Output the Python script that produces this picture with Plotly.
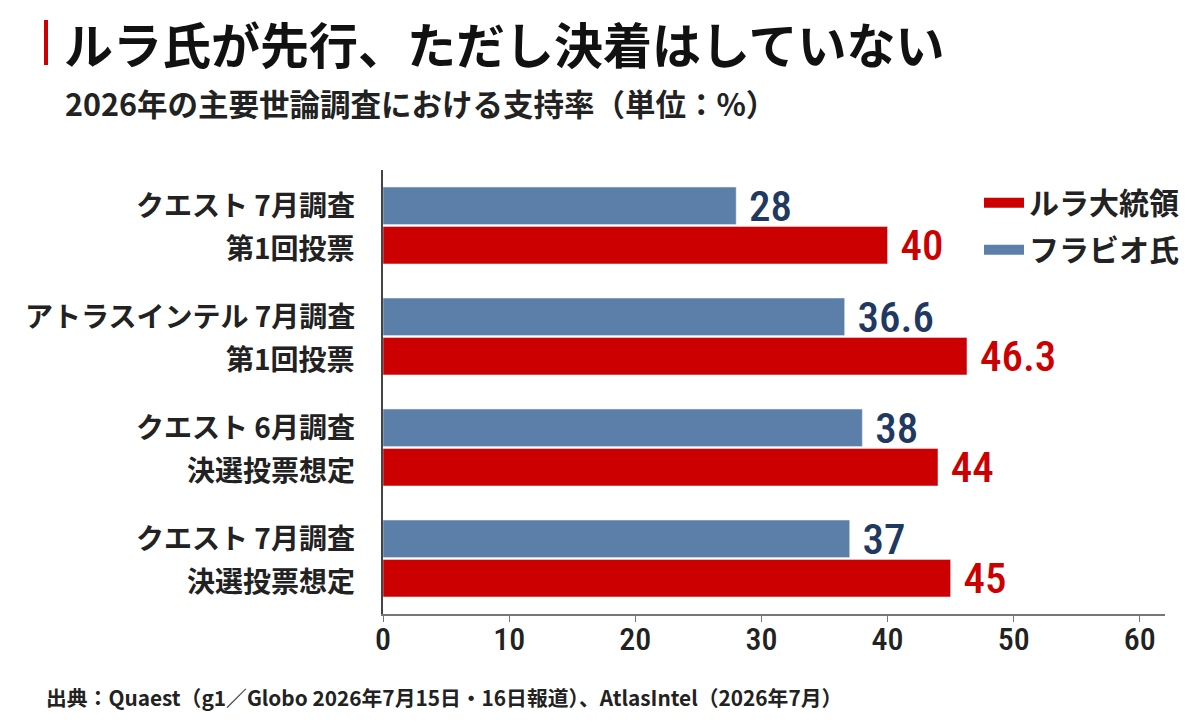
import plotly.graph_objects as go

# 調査ごとのラベル（2行）と支持率
label_top = ["クエスト 7月調査", "アトラスインテル 7月調査", "クエスト 6月調査", "クエスト 7月調査"]
label_bottom = ["第1回投票", "第1回投票", "決選投票想定", "決選投票想定"]
categories = ["q7_1", "atlas7_1", "q6_run", "q7_run"]
lula = [40, 46.3, 44, 45]
flavio = [28, 36.6, 38, 37]

RED = "#cc0000"
BLUE = "#5b7fa8"
NAVY = "#1f3960"
JP = "Noto Sans CJK JP"
NUM = "Roboto Condensed, Liberation Sans Narrow, Roboto, sans-serif"
BARNUM = "Roboto Condensed, Roboto, sans-serif"

# ページ余白(8px)を差し引いた配置
L, T, R, B = 375, 162, 43, 120
W = 1200 - L - R


def px(x):
    # 画面の左端からのピクセル -> paper 座標
    return (x - 8 - L) / W


fig = go.Figure()

fig.add_trace(go.Bar(
    y=categories, x=flavio, orientation="h", name="フラビオ氏",
    marker_color=BLUE, showlegend=False,
    text=["\u00a0" + str(v) for v in flavio], textposition="outside",
    textfont=dict(family=BARNUM, size=43, color=NAVY, weight=500),
    cliponaxis=False,
))
fig.add_trace(go.Bar(
    y=categories, x=lula, orientation="h", name="ルラ大統領",
    marker_color=RED, showlegend=False,
    text=["\u00a0" + str(v) for v in lula], textposition="outside",
    textfont=dict(family=BARNUM, size=43, color=RED, weight=500),
    cliponaxis=False,
))

# 凡例用
fig.add_trace(go.Scatter(x=[None], y=[None], mode="lines", name="<b>ルラ大統領</b>",
                         line=dict(color=RED, width=15), legendgroup="a"))
fig.add_trace(go.Scatter(x=[None], y=[None], mode="lines", name="<b>フラビオ氏</b>",
                         line=dict(color=BLUE, width=15), legendgroup="b"))

for cat, t1, t2 in zip(categories, label_top, label_bottom):
    fig.add_annotation(x=0, xref="paper", xanchor="right", xshift=-26, y=cat, yref="y",
                       yshift=22, text="<b>" + t1 + "</b>", showarrow=False,
                       font=dict(family=JP, size=28, color="#222"))
    fig.add_annotation(x=0, xref="paper", xanchor="right", xshift=-26, y=cat, yref="y",
                       yshift=-21, text="<b>" + t2 + "</b>", showarrow=False,
                       font=dict(family=JP, size=28, color="#222"))

fig.add_annotation(x=px(62), xref="paper", xanchor="left", y=1, yref="paper",
                   yshift=170 - 42, yanchor="middle", showarrow=False,
                   text="<b>ルラ氏が先行、ただし決着はしていない</b>",
                   font=dict(family=JP, size=49, color="#111"))
fig.add_annotation(x=px(63), xref="paper", xanchor="left", y=1, yref="paper",
                   yshift=170 - 103, yanchor="middle", showarrow=False,
                   text="<b>2026年の主要世論調査における支持率（単位：%）</b>",
                   font=dict(family=JP, size=30.5, color="#222"))
fig.add_annotation(x=px(44), xref="paper", xanchor="left", y=0, yref="paper",
                   yshift=-(697 - 614), yanchor="middle", showarrow=False,
                   text="<b>出典：Quaest（g1／Globo 2026年7月15日・16日報道）、AtlasIntel（2026年7月）</b>",
                   font=dict(family=JP, size=20.8, color="#222"))
fig.add_shape(type="line", xref="paper", yref="paper",
              x0=px(46), x1=px(46), y0=1 + (170 - 65) / 444, y1=1 + (170 - 20) / 444,
              line=dict(color=RED, width=4))

fig.update_layout(
    width=1200, height=726,
    margin=dict(l=L, r=R, t=T, b=B),
    paper_bgcolor="white", plot_bgcolor="white",
    barmode="group", bargap=0.29, bargroupgap=0.05, uniformtext=dict(mode=False),
    font=dict(family=JP, color="#222"),
    legend=dict(x=px(979), xanchor="left", y=0.985, yanchor="top",
                font=dict(family=JP, size=30, color="#222"), itemwidth=40,
                traceorder="grouped", tracegroupgap=5, bgcolor="rgba(0,0,0,0)"),
    xaxis=dict(range=[0, 62], tickvals=[0, 10, 20, 30, 40, 50, 60],
               showgrid=False, zeroline=False,
               showline=True, linecolor="#777", linewidth=2,
               ticks="outside", ticklen=6, tickcolor="#777", ticklabelstandoff=-10,
               tickfont=dict(family=NUM, size=32, color="#222", weight=500)),
    yaxis=dict(autorange="reversed", showticklabels=False, showgrid=False,
               showline=True, linecolor="#444", linewidth=1.5, ticks=""),
)
fig.update_traces(constraintext="none", selector=dict(type="bar"))

fig.write_html("out.html")
